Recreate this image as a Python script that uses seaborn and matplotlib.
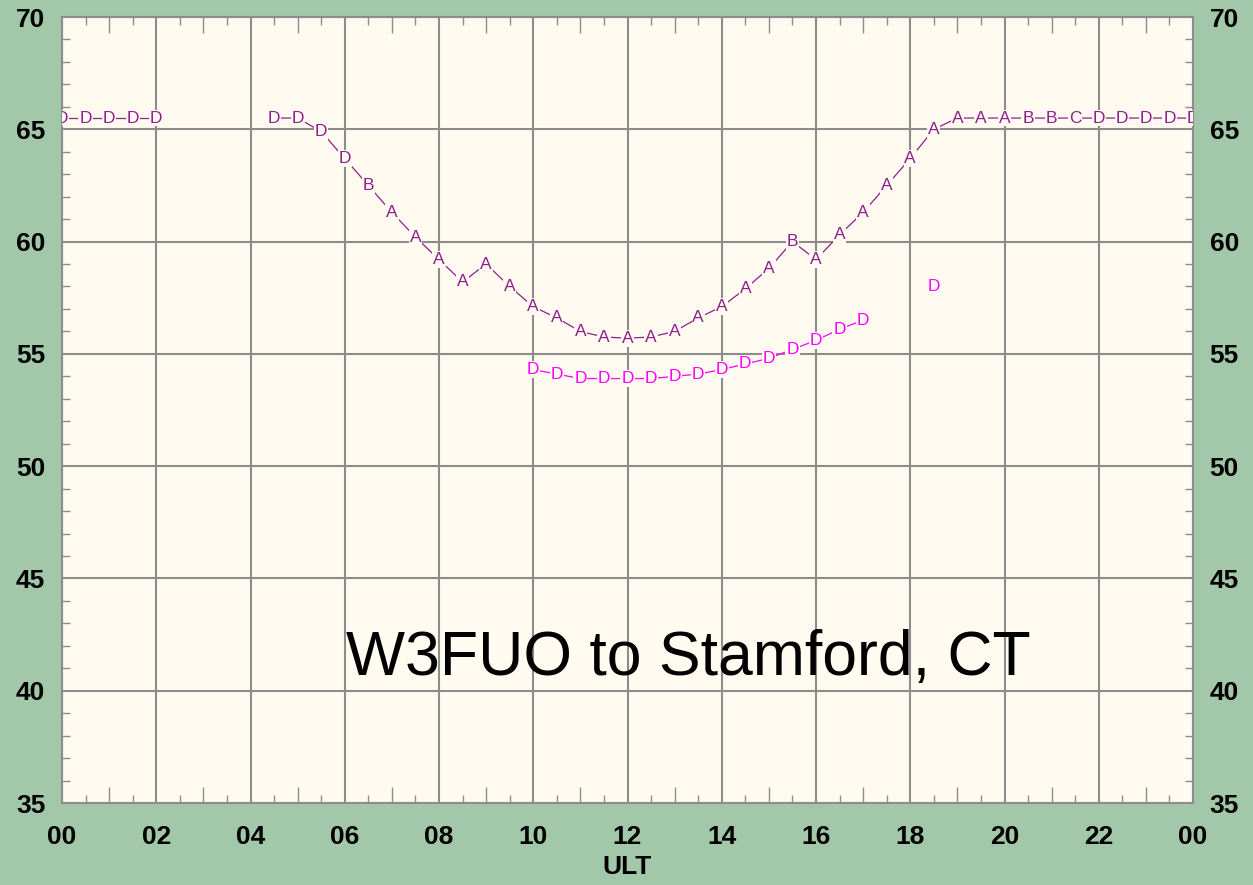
import numpy as np
import pandas as pd
import seaborn as sns
import matplotlib.pyplot as plt
from matplotlib.ticker import FixedLocator, FuncFormatter

# --- data (hour UT, value, letter) ---
hours_a1 = [0, 0.5, 1, 1.5, 2]
vals_a1 = [65.5, 65.5, 65.5, 65.5, 65.5]
lets_a1 = "DDDDD"

hours_a2 = [4.5, 5, 5.5, 6, 6.5, 7, 7.5, 8, 8.5, 9, 9.5, 10, 10.5, 11, 11.5, 12,
            12.5, 13, 13.5, 14, 14.5, 15, 15.5, 16, 16.5, 17, 17.5, 18, 18.5, 19,
            19.5, 20, 20.5, 21, 21.5, 22, 22.5, 23, 23.5, 24]
vals_a2 = [65.5, 65.5, 64.9, 63.7, 62.5, 61.3, 60.2, 59.2, 58.2, 59.0, 58.0, 57.1,
           56.6, 56.0, 55.75, 55.7, 55.75, 56.0, 56.6, 57.1, 57.9, 58.8, 60.0, 59.2,
           60.3, 61.3, 62.5, 63.7, 65.0, 65.5, 65.5, 65.5, 65.5, 65.5, 65.5, 65.5,
           65.5, 65.5, 65.5, 65.5]
lets_a2 = "DDDDBAAAAAAAAAAAAAAAAABAAAAAAAAABBCDDDDD"

hours_b1 = [10, 10.5, 11, 11.5, 12, 12.5, 13, 13.5, 14, 14.5, 15, 15.5, 16, 16.5, 17]
vals_b1 = [54.3, 54.1, 53.9, 53.9, 53.9, 53.9, 54.0, 54.1, 54.3, 54.55, 54.8, 55.2,
           55.6, 56.1, 56.5]
lets_b1 = "DDDDDDDDDDDDDDD"

hours_b2 = [18.5]
vals_b2 = [58.0]
lets_b2 = "D"

x_labels_hours = [0, 2, 4, 6, 8, 10, 12, 14, 16, 18, 20, 22, 24]
y_ticks = [35, 40, 45, 50, 55, 60, 65, 70]
title_text = "W3FUO to Stamford, CT"

PURPLE = "#8e1f8e"
MAGENTA = "#ff00ff"
GREEN = "#a3c8a9"
CREAM = "#fffbf0"
GRID = "#8c8c8c"

rows = []
for seg, (hh, vv, ll, ser) in enumerate([(hours_a1, vals_a1, lets_a1, "a"),
                                          (hours_a2, vals_a2, lets_a2, "a"),
                                          (hours_b1, vals_b1, lets_b1, "b"),
                                          (hours_b2, vals_b2, lets_b2, "b")]):
    for h, v, l in zip(hh, vv, ll):
        rows.append({"hour": h, "value": v, "letter": l, "series": ser, "seg": seg})
df = pd.DataFrame(rows)

sns.set_style("white")
plt.rcParams["font.family"] = ["Liberation Sans", "DejaVu Sans"]
plt.rcParams["text.color"] = "black"
plt.rcParams["axes.labelcolor"] = "black"

fig = plt.figure(figsize=(12.53, 8.85), dpi=100, facecolor=GREEN)
ax = fig.add_axes([62 / 1253, 1 - 803 / 885, (1193 - 62) / 1253, (803 - 17) / 885])
ax.set_facecolor(CREAM)

sns.lineplot(data=df, x="hour", y="value", hue="series", units="seg",
             estimator=None, palette={"a": PURPLE, "b": MAGENTA},
             linewidth=0.9, legend=False, ax=ax, zorder=3)

for _, r in df.iterrows():
    ax.text(r["hour"], r["value"], r["letter"], ha="center", va="center",
            fontsize=12.5, color=PURPLE if r["series"] == "a" else MAGENTA,
            zorder=4, clip_on=True,
            bbox=dict(boxstyle="square,pad=0.05", fc=CREAM, ec="none"))

ax.set_xlim(0, 24)
ax.set_ylim(35, 70)

ax.xaxis.set_major_locator(FixedLocator(x_labels_hours))
ax.xaxis.set_major_formatter(FuncFormatter(lambda v, p: f"{int(round(v)) % 24:02d}"))
ax.xaxis.set_minor_locator(FixedLocator(np.arange(0.5, 24, 1.0)))
ax.yaxis.set_major_locator(FixedLocator(y_ticks))
ax.yaxis.set_minor_locator(FixedLocator(np.arange(35, 70, 1.0)))

ax.grid(True, which="major", color=GRID, linewidth=1.5, zorder=1)
ax.set_axisbelow(True)
for s in ax.spines.values():
    s.set_visible(True)
    s.set_color(GRID)
    s.set_linewidth(1.5)

ax.tick_params(axis="x", which="major", length=0, pad=16, labelsize=19,
               labelcolor="black")
ax.tick_params(axis="y", which="major", length=0, pad=12, labelsize=19,
               left=True, right=True, labelleft=True, labelright=True,
               labelcolor="black")
ax.tick_params(which="minor", direction="in", length=5.8, width=1, color=GRID,
               top=True, bottom=True, left=True, right=True)
for lab in ax.get_xticklabels() + ax.get_yticklabels():
    lab.set_fontweight("bold")

# longer hour ticks on top and bottom edges
for loc in ("top", "bottom"):
    sec = ax.secondary_xaxis(loc)
    sec.set_xticks(np.arange(1, 24, 2))
    sec.tick_params(direction="in", length=11.5, width=1, color=GRID,
                    labeltop=False, labelbottom=False)
    for s in sec.spines.values():
        s.set_visible(False)

ax.set_xlabel("ULT", fontsize=19, fontweight="bold", labelpad=4, color="black")
ax.set_ylabel("")

ax.text(13.28, 40.7, title_text, ha="center", va="baseline", fontsize=45,
        color="black", zorder=5)

fig.savefig("out.png", dpi=100, facecolor=GREEN)
